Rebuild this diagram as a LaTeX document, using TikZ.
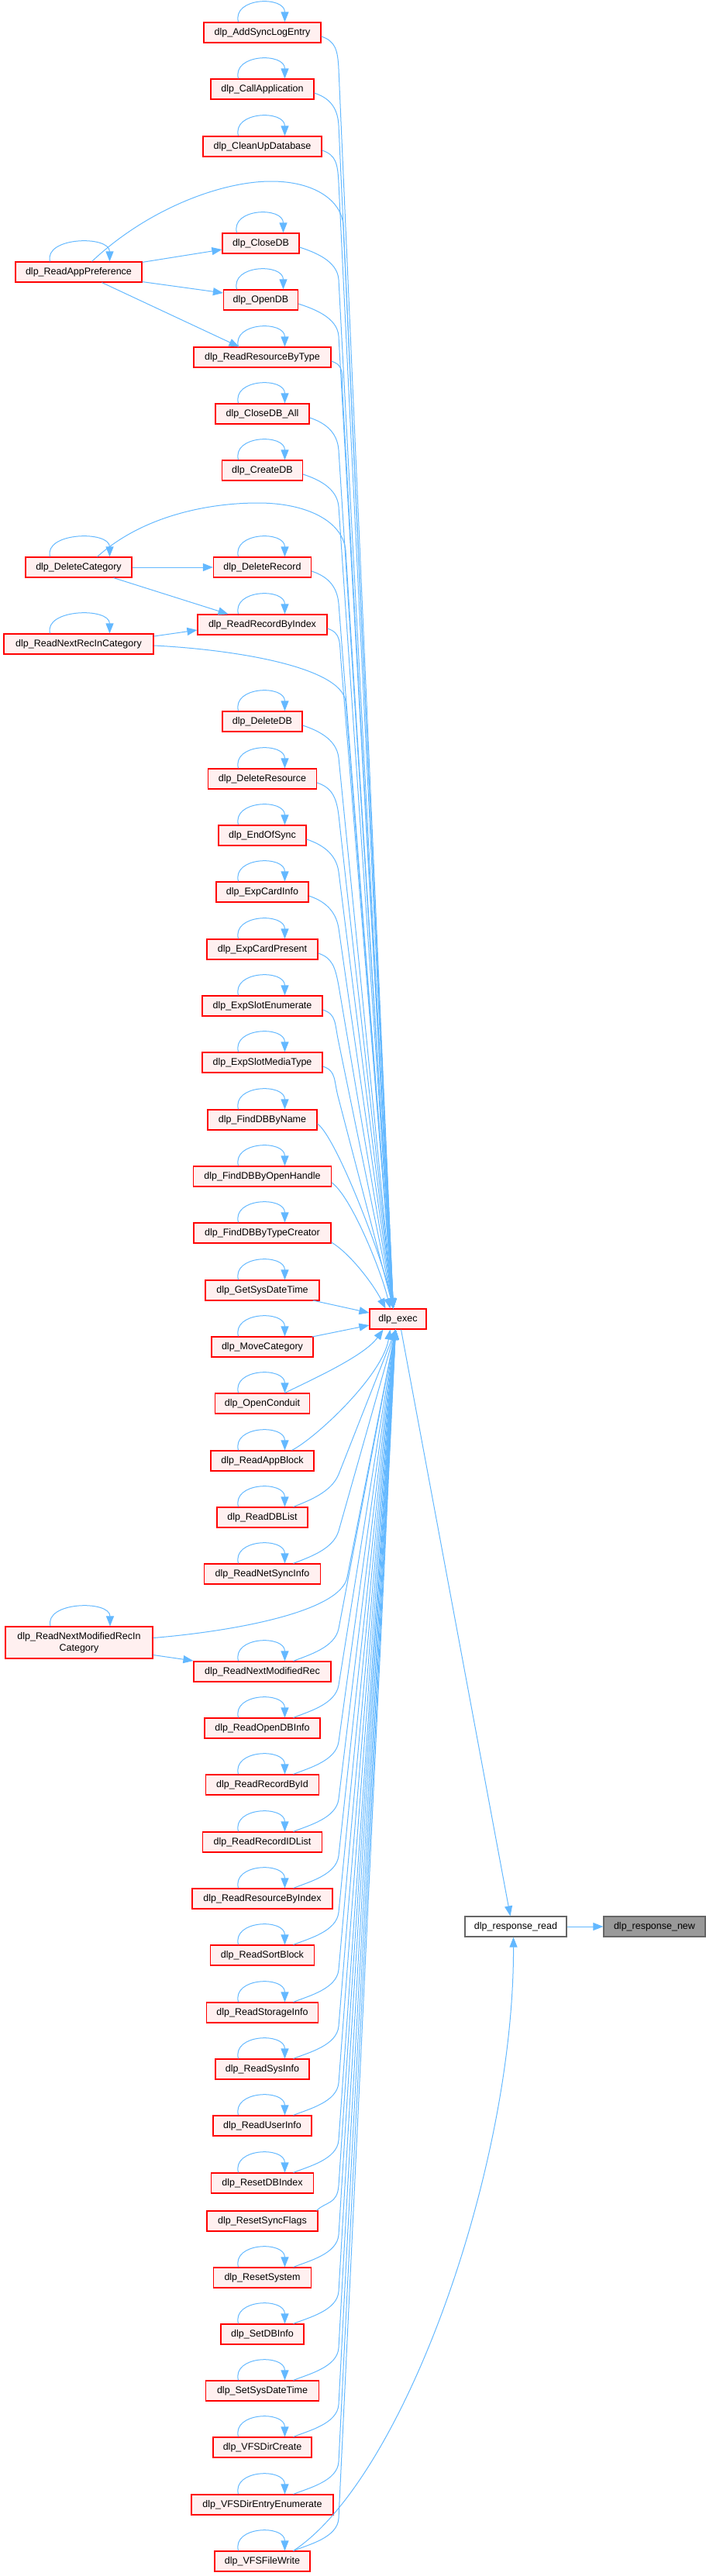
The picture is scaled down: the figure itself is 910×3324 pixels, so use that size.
\documentclass[tikz,border=0pt]{standalone}
\usepackage{fontspec}
\setmainfont{Liberation Sans}
\usetikzlibrary{arrows.meta,calc}
\definecolor{edgeblue}{HTML}{63B8FF}
\definecolor{nodefill}{HTML}{FFF0F0}
\definecolor{nodered}{HTML}{FF0000}
\definecolor{greyb}{HTML}{666666}
\definecolor{greyf}{HTML}{999999}
\tikzset{
  fn/.style={draw=nodered, fill=nodefill, line width=1.2pt, inner xsep=2pt, inner ysep=2pt,
    minimum height=26pt, font=\fontsize{12.5pt}{15pt}\selectfont, text=black, align=center},
  edge/.style={draw=edgeblue, line width=1pt, -{Triangle[length=13pt,width=10pt]}},
}
\newcommand\fn[5]{\node[fn, minimum width=#4pt] (#1) at (#2,-#3) {#5};}
\newcommand\selfloop[3]{\draw[edge] ([xshift=#2]#1.north) .. controls +(-8pt,32pt) and +(0pt,34pt) .. ([xshift=#3]#1.north);}
\newcommand\mloop[1]{\selfloop{#1}{-31pt}{29pt}}
\newcommand\lloop[1]{\selfloop{#1}{-37pt}{40pt}}
\newcommand\upe[2]{\draw[edge] let \p1=([yshift=-5pt]#1.east), \p2=(#2pt,\y1-42pt) in
  (\p1) .. controls +(18pt,-6pt) and ($(\p2)!-25pt!(exec.north)$) .. (\p2) -- ([xshift=-6pt]exec.north);}
\newcommand\loe[2]{\draw[edge] let \p1=([xshift=40pt]#1.north), \p2=(#2pt,\y1+42pt) in
  (\p1) .. controls +(20pt,8pt) and ($(\p2)!-25pt!(exec.south)$) .. (\p2) -- ([xshift=-3pt]exec.south);}
\begin{document}
\begin{tikzpicture}[x=1pt,y=1pt]
\useasboundingbox (0,0) rectangle (910,-3324);
% middle column
\fn{n1}{338.5}{42}{151}{dlp\_AddSyncLogEntry}
\fn{n2}{338.5}{115}{133}{dlp\_CallApplication}
\fn{n3}{338.5}{189}{153}{dlp\_CleanUpDatabase}
\fn{n4}{336.5}{314}{99}{dlp\_CloseDB}
\fn{rap}{101.5}{351}{163}{dlp\_ReadAppPreference}
\fn{n5}{336.5}{387}{96}{dlp\_OpenDB}
\fn{n6}{338.5}{461}{177}{dlp\_ReadResourceByType}
\fn{n7}{338.5}{534}{121}{dlp\_CloseDB\_All}
\fn{n8}{338.5}{607}{104}{dlp\_CreateDB}
\fn{dc}{101.5}{732}{137}{dlp\_DeleteCategory}
\fn{n9}{338.5}{732}{126}{dlp\_DeleteRecord}
\fn{n10}{338.5}{806}{167}{dlp\_ReadRecordByIndex}
\fn{rnc}{101.5}{831}{193}{dlp\_ReadNextRecInCategory}
\fn{n11}{338.5}{931}{103}{dlp\_DeleteDB}
\fn{n12}{338.5}{1005}{140}{dlp\_DeleteResource}
\fn{n13}{338.5}{1078}{113}{dlp\_EndOfSync}
\fn{n14}{338.5}{1151}{119}{dlp\_ExpCardInfo}
\fn{n15}{338.5}{1225}{143}{dlp\_ExpCardPresent}
\fn{n16}{338.5}{1298}{155}{dlp\_ExpSlotEnumerate}
\fn{n17}{338.5}{1371}{155}{dlp\_ExpSlotMediaType}
\fn{n18}{338.5}{1445}{141}{dlp\_FindDBByName}
\fn{n19}{338.5}{1518}{178}{dlp\_FindDBByOpenHandle}
\fn{n20}{338.5}{1591}{177}{dlp\_FindDBByTypeCreator}
\fn{n21}{338.5}{1665}{147}{dlp\_GetSysDateTime}
\fn{exec}{513.5}{1702}{73}{dlp\_exec}
\fn{n22}{338.5}{1738}{131}{dlp\_MoveCategory}
\fn{n23}{338.5}{1811}{122}{dlp\_OpenConduit}
\fn{n24}{338.5}{1885}{133}{dlp\_ReadAppBlock}
\fn{n25}{338.5}{1958}{117}{dlp\_ReadDBList}
\fn{n26}{338.5}{2031}{150}{dlp\_ReadNetSyncInfo}
\node[fn, minimum width=190pt, minimum height=41pt] (rnmc) at (102,-2119.5) {dlp\_ReadNextModifiedRecIn\\Category};
\fn{n27}{338.5}{2157}{177}{dlp\_ReadNextModifiedRec}
\fn{n28}{338.5}{2230}{149}{dlp\_ReadOpenDBInfo}
\fn{n29}{338.5}{2303}{146}{dlp\_ReadRecordById}
\fn{n30}{338.5}{2377}{154}{dlp\_ReadRecordIDList}
\fn{n31}{338.5}{2450}{181}{dlp\_ReadResourceByIndex}
\node[fn, draw=greyb, fill=white, minimum width=131pt] (rr) at (665.5,-2486) {dlp\_response\_read};
\node[fn, draw=greyb, fill=greyf, minimum width=131pt] (rn) at (844.5,-2486) {dlp\_response\_new};
\fn{n32}{338.5}{2523}{134}{dlp\_ReadSortBlock}
\fn{n33}{338.5}{2597}{144}{dlp\_ReadStorageInfo}
\fn{n34}{338.5}{2670}{121}{dlp\_ReadSysInfo}
\fn{n35}{338.5}{2743}{127}{dlp\_ReadUserInfo}
\fn{n36}{338.5}{2817}{132}{dlp\_ResetDBIndex}
\fn{n37}{338.5}{2866}{143}{dlp\_ResetSyncFlags}
\fn{n38}{338.5}{2939}{126}{dlp\_ResetSystem}
\fn{n39}{338.5}{3012}{107}{dlp\_SetDBInfo}
\fn{n40}{338.5}{3085}{146}{dlp\_SetSysDateTime}
\fn{n41}{338.5}{3158}{127}{dlp\_VFSDirCreate}
\fn{n42}{338.5}{3232}{183}{dlp\_VFSDirEntryEnumerate}
\fn{n43}{338.5}{3305}{123}{dlp\_VFSFileWrite}
% self loops
\foreach \nd in {n1,n2,n3,n4,n5,n6,n7,n8,n9,n10,n11,n12,n13,n14,n15,n16,n17,n18,n19,n20,n21,n22,n23,n24,n25,n26,n27,n28,n29,n30,n31,n32,n33,n34,n35,n36,n38,n39,n40,n41,n42,n43}{\mloop{\nd}}
\foreach \nd in {rap,dc,rnc,rnmc}{\lloop{\nd}}
% left column edges
\draw[edge] ([yshift=-1pt]rap.north east) -- ([yshift=-8pt]n4.west);
\draw[edge] ([yshift=1pt]rap.south east) -- ([yshift=9pt]n5.west);
\draw[edge] ([xshift=30pt]rap.south) -- ([xshift=-30pt]n6.north);
\draw[edge] (dc.east) -- (n9.west);
\draw[edge] ([xshift=45pt]dc.south) -- ([xshift=-44pt]n10.north);
\draw[edge] ([yshift=10pt]rnc.east) -- ([yshift=-7pt]n10.west);
\draw[edge] ([yshift=-16pt]rnmc.east) -- ([yshift=14pt]n27.west);
% arcs to exec
\draw[edge] ([xshift=17pt]rap.north) .. controls (190,-270) and (285,-234) .. (350,-234)
  .. controls (405,-234) and (440,-258) .. (443,-290) -- ([xshift=-6pt]exec.north);
\draw[edge] ([xshift=24pt]dc.north) .. controls (185,-665) and (270,-649) .. (333,-649)
  .. controls (395,-649) and (442,-672) .. (446,-710) -- ([xshift=-6pt]exec.north);
\draw[edge] ([yshift=-2pt]rnc.east) .. controls (300,-838) and (440,-860) .. (446,-905) -- ([xshift=-6pt]exec.north);
\draw[edge] ([yshift=6pt]rnmc.east) .. controls (300,-2105) and (440,-2080) .. (448,-2035) -- ([xshift=-3pt]exec.south);
% upper callers
\foreach \nd in {n1,n2,n3,n4,n5,n7,n8,n9,n11,n12,n13,n14,n15,n16,n17}{\upe{\nd}{437}}
\upe{n6}{442}
\upe{n10}{440}
\draw[edge] ([yshift=-5pt]n18.east) .. controls +(25pt,-18pt) and +(-12pt,60pt) .. ([xshift=-6pt]exec.north);
\draw[edge] ([yshift=-8pt]n19.east) .. controls +(25pt,-18pt) and +(-12pt,50pt) .. ([xshift=-10pt]exec.north);
\draw[edge] ([yshift=-12pt]n20.east) .. controls +(25pt,-15pt) and +(-15pt,30pt) .. ([xshift=-16pt]exec.north);
\draw[edge] ([yshift=-13pt,xshift=-9pt]n21.east) -- ([yshift=8pt]exec.west);
% lower callers
\draw[edge] ([yshift=13pt,xshift=-2pt]n22.east) -- ([yshift=-8pt]exec.west);
\draw[edge] ([xshift=29pt]n23.north) .. controls +(30pt,15pt) and +(-25pt,-35pt) .. ([xshift=-19pt]exec.south);
\draw[edge] ([xshift=38pt]n24.north) .. controls +(30pt,15pt) and +(-10pt,-60pt) .. ([xshift=-10pt]exec.south);
\foreach \nd in {n25,n26,n27,n28,n29,n30,n31,n32,n33,n34,n35,n36,n38,n39,n40,n41,n42,n43}{\loe{\nd}{437}}
\draw[edge] ([xshift=-2pt]n37.north east) .. controls +(12pt,12pt) and ($(437,-2820)!-25pt!(exec.south)$) .. (437,-2820) -- ([xshift=-3pt]exec.south);
% response chain
\draw[edge] ([xshift=4pt]exec.south) -- ([xshift=-7pt]rr.north);
\draw[edge] ([xshift=40pt]n43.north) .. controls +(141pt,92pt) and +(1pt,-300pt) .. ([xshift=-3pt]rr.south);
\draw[edge] (rr.east) -- (rn.west);
\end{tikzpicture}
\end{document}
